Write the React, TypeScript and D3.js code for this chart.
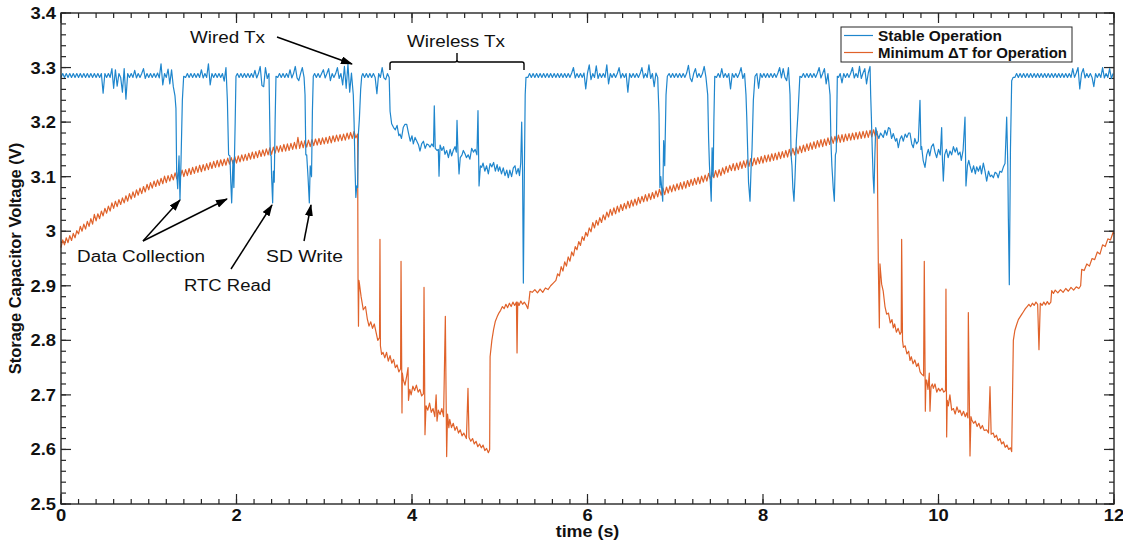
import React from 'react';
import * as d3 from 'd3';

type Pt = [number, number];

const run = (t0: number, dt: number, values: number[]): Pt[] =>
  values.map((v, i) => [Math.round((t0 + i * dt) * 1000) / 1000, v]);

// ---------------- Stable Operation (blue) ----------------
const stableQuiet1 = [
  3.282, 3.289, 3.282, 3.289, 3.282, 3.289, 3.282, 3.289, 3.282, 3.289,
  3.282, 3.289, 3.282, 3.289, 3.282, 3.289, 3.282, 3.289, 3.282, 3.289,
  3.282, 3.289, 3.282, 3.289, 3.253, 3.289, 3.282, 3.289, 3.282, 3.298,
  3.262, 3.296, 3.266, 3.289, 3.282, 3.255, 3.298, 3.242, 3.289, 3.282,
  3.289, 3.282, 3.295, 3.281, 3.289, 3.282, 3.289, 3.298, 3.280, 3.289,
  3.282, 3.289, 3.282, 3.289, 3.282, 3.290, 3.281, 3.307, 3.268, 3.289,
  3.282, 3.297, 3.270, 3.296, 3.265,
];
const stableDip1: Pt[] = [[1.299, 3.248], [1.31, 3.225], [1.318, 3.108], [1.33, 3.078], [1.345, 3.138], [1.356, 3.058], [1.368, 3.13], [1.383, 3.24], [1.398, 3.284]];
const stableQuiet2 = [3.282, 3.289, 3.282, 3.289, 3.282, 3.289, 3.282, 3.289, 3.282, 3.296, 3.281, 3.289, 3.282, 3.307, 3.268, 3.289, 3.282, 3.289, 3.282, 3.289, 3.282, 3.289, 3.275, 3.300];
const stableDip2: Pt[] = [[1.896, 3.24], [1.91, 3.14], [1.925, 3.138], [1.935, 3.09], [1.945, 3.052], [1.96, 3.13], [1.97, 3.08], [1.985, 3.2], [1.994, 3.284]];
const stableQuiet3 = [3.289, 3.282, 3.289, 3.282, 3.289, 3.282, 3.289, 3.282, 3.289, 3.282, 3.295, 3.281, 3.289, 3.302, 3.267, 3.265, 3.300, 3.280, 3.289];
const stableDip3: Pt[] = [[2.374, 3.25], [2.385, 3.14], [2.395, 3.138], [2.40, 3.1], [2.412, 3.052], [2.42, 3.11], [2.43, 3.09], [2.44, 3.2], [2.45, 3.284]];
const stableQuiet4 = [3.282, 3.289, 3.282, 3.289, 3.282, 3.289, 3.282, 3.296, 3.281, 3.289, 3.302, 3.281, 3.276, 3.289, 3.300, 3.282];
const stableDip4: Pt[] = [[2.781, 3.25], [2.79, 3.14], [2.80, 3.14], [2.815, 3.1], [2.83, 3.052], [2.84, 3.12], [2.855, 3.1], [2.865, 3.22], [2.875, 3.284]];
const stableQuiet5 = [3.289, 3.282, 3.289, 3.282, 3.289, 3.296, 3.281, 3.289, 3.298, 3.276, 3.289, 3.282, 3.289, 3.300, 3.280, 3.289, 3.268, 3.302, 3.262, 3.307, 3.255, 3.290];
const stableDip5: Pt[] = [[3.331, 3.25], [3.34, 3.2], [3.35, 3.12], [3.36, 3.062], [3.37, 3.083], [3.38, 3.08], [3.39, 3.181], [3.40, 3.205], [3.415, 3.26], [3.427, 3.284]];
const stableQuiet6 = [3.289, 3.282, 3.289, 3.282, 3.289, 3.282, 3.289, 3.282, 3.252, 3.289, 3.282, 3.300, 3.281, 3.278, 3.289, 3.282];
const stableWireless1: Pt[] = [
  [3.75, 3.22], [3.768, 3.197], [3.79, 3.19], [3.81, 3.186], [3.83, 3.194], [3.85, 3.175], [3.863, 3.178], [3.88, 3.17],
  [3.90, 3.19], [3.92, 3.196], [3.94, 3.196], [3.96, 3.18], [3.98, 3.165], [4.00, 3.175], [4.015, 3.16], [4.035, 3.172],
  [4.055, 3.165], [4.075, 3.158], [4.091, 3.147], [4.11, 3.16], [4.13, 3.165], [4.15, 3.152], [4.17, 3.16], [4.19, 3.158],
  [4.205, 3.154], [4.225, 3.16], [4.245, 3.155], [4.254, 3.23], [4.265, 3.152], [4.285, 3.148], [4.30, 3.15], [4.308, 3.101],
  [4.32, 3.158], [4.34, 3.148], [4.36, 3.155], [4.376, 3.141], [4.395, 3.148], [4.415, 3.135], [4.435, 3.15], [4.452, 3.138],
  [4.47, 3.148], [4.49, 3.155], [4.505, 3.145], [4.513, 3.203], [4.525, 3.14], [4.536, 3.105], [4.55, 3.135], [4.57, 3.14],
  [4.585, 3.148], [4.604, 3.142], [4.62, 3.135], [4.64, 3.14], [4.66, 3.132], [4.68, 3.152], [4.70, 3.145], [4.72, 3.15],
  [4.74, 3.14], [4.752, 3.221], [4.764, 3.083], [4.78, 3.12], [4.794, 3.117], [4.81, 3.125], [4.83, 3.11], [4.85, 3.12],
  [4.87, 3.105], [4.89, 3.124], [4.91, 3.118], [4.93, 3.126], [4.95, 3.11], [4.97, 3.122], [4.984, 3.11], [5.00, 3.118],
  [5.02, 3.105], [5.04, 3.116], [5.06, 3.102], [5.08, 3.112], [5.098, 3.098], [5.115, 3.112], [5.135, 3.1], [5.155, 3.116],
  [5.174, 3.12], [5.19, 3.105], [5.21, 3.115], [5.225, 3.102], [5.239, 3.125], [5.25, 3.2], [5.26, 3.11], [5.269, 2.905],
  [5.28, 3.1], [5.29, 3.25], [5.299, 3.282],
];
const stableQuiet7 = [
  3.282, 3.289, 3.282, 3.289, 3.282, 3.289, 3.282, 3.289, 3.282, 3.289,
  3.282, 3.289, 3.282, 3.289, 3.282, 3.289, 3.282, 3.289, 3.282, 3.289,
  3.282, 3.289, 3.282, 3.289, 3.282, 3.290, 3.300, 3.281, 3.289, 3.282,
  3.289, 3.282, 3.290, 3.261, 3.290, 3.305, 3.278, 3.289, 3.282, 3.303,
  3.280, 3.289, 3.282, 3.289, 3.282, 3.305, 3.270, 3.289, 3.282, 3.289,
  3.282, 3.289, 3.300, 3.281, 3.289, 3.282, 3.289, 3.255, 3.289, 3.282,
  3.289, 3.282, 3.289, 3.282, 3.289, 3.300, 3.281, 3.289, 3.282, 3.305,
  3.280, 3.289, 3.265, 3.290, 3.282,
];
const stableDip6: Pt[] = [[6.807, 3.25], [6.815, 3.215], [6.825, 3.08], [6.835, 3.10], [6.845, 3.08], [6.857, 3.055], [6.868, 3.166], [6.88, 3.12], [6.895, 3.25], [6.91, 3.284]];
const stableQuiet8 = [3.289, 3.282, 3.289, 3.282, 3.289, 3.282, 3.289, 3.282, 3.289, 3.282, 3.290, 3.304, 3.281, 3.274, 3.289, 3.298, 3.282, 3.289, 3.282, 3.289, 3.302, 3.282];
const stableDip7: Pt[] = [[7.37, 3.25], [7.38, 3.17], [7.39, 3.12], [7.40, 3.09], [7.41, 3.055], [7.42, 3.153], [7.432, 3.10], [7.44, 3.2], [7.45, 3.284]];
const stableQuiet9 = [3.282, 3.289, 3.282, 3.298, 3.282, 3.289, 3.282, 3.289, 3.261, 3.289, 3.282, 3.289, 3.282, 3.289, 3.300, 3.280, 3.289];
const stableDip8: Pt[] = [[7.806, 3.25], [7.815, 3.209], [7.825, 3.15], [7.835, 3.09], [7.852, 3.055], [7.865, 3.12], [7.875, 3.15], [7.89, 3.24], [7.909, 3.284]];
const stableQuiet10 = [3.289, 3.262, 3.289, 3.282, 3.289, 3.282, 3.289, 3.282, 3.289, 3.282, 3.289, 3.282, 3.290, 3.300, 3.281, 3.298, 3.282, 3.276, 3.300];
const stableDip9: Pt[] = [[8.308, 3.25], [8.32, 3.14], [8.33, 3.12], [8.34, 3.08], [8.353, 3.055], [8.365, 3.10], [8.38, 3.166], [8.40, 3.22], [8.42, 3.284]];
const stableQuiet11 = [3.282, 3.289, 3.282, 3.289, 3.282, 3.289, 3.282, 3.289, 3.282, 3.290, 3.300, 3.281, 3.289, 3.298, 3.270, 3.289];
const stableDip10: Pt[] = [[8.764, 3.25], [8.775, 3.16], [8.785, 3.12], [8.80, 3.08], [8.813, 3.055], [8.825, 3.14], [8.835, 3.146], [8.847, 3.284]];
const stableQuiet12 = [3.282, 3.289, 3.272, 3.289, 3.282, 3.289, 3.282, 3.290, 3.300, 3.281, 3.289, 3.282, 3.302, 3.280, 3.290, 3.298, 3.270, 3.290, 3.302];
const stableWireless2: Pt[] = [
  [9.227, 3.25], [9.235, 3.209], [9.245, 3.15], [9.255, 3.1], [9.265, 3.07], [9.275, 3.14], [9.285, 3.19],
  [9.30, 3.179], [9.32, 3.17], [9.34, 3.18], [9.371, 3.172], [9.39, 3.185], [9.41, 3.176], [9.43, 3.19], [9.447, 3.188],
  [9.465, 3.17], [9.485, 3.179], [9.51, 3.165], [9.525, 3.17], [9.542, 3.153], [9.56, 3.168], [9.58, 3.175], [9.599, 3.165],
  [9.62, 3.178], [9.64, 3.172], [9.66, 3.18], [9.675, 3.18], [9.695, 3.16], [9.713, 3.153], [9.73, 3.17], [9.75, 3.16],
  [9.77, 3.165], [9.789, 3.24], [9.80, 3.15], [9.808, 3.155], [9.825, 3.13], [9.846, 3.117], [9.865, 3.14], [9.884, 3.15],
  [9.90, 3.138], [9.92, 3.155], [9.941, 3.16], [9.96, 3.145], [9.979, 3.135], [10.00, 3.15], [10.02, 3.14], [10.036, 3.19],
  [10.045, 3.13], [10.055, 3.092], [10.07, 3.14], [10.09, 3.15], [10.11, 3.135], [10.131, 3.147], [10.15, 3.14], [10.17, 3.155],
  [10.19, 3.145], [10.207, 3.153], [10.225, 3.14], [10.245, 3.145], [10.26, 3.13], [10.28, 3.148], [10.302, 3.209], [10.313, 3.083],
  [10.33, 3.12], [10.345, 3.13], [10.359, 3.12], [10.38, 3.108], [10.40, 3.12], [10.42, 3.105], [10.435, 3.118], [10.455, 3.11],
  [10.475, 3.12], [10.49, 3.105], [10.511, 3.125], [10.53, 3.11], [10.549, 3.092], [10.57, 3.11], [10.59, 3.1], [10.606, 3.103],
  [10.625, 3.098], [10.645, 3.108], [10.663, 3.106], [10.68, 3.098], [10.70, 3.11], [10.72, 3.108], [10.74, 3.118], [10.758, 3.124],
  [10.777, 3.209], [10.79, 3.12], [10.796, 3.025], [10.807, 2.902], [10.82, 3.15], [10.834, 3.276], [10.85, 3.282],
];
const stableQuiet13 = [
  3.282, 3.289, 3.282, 3.289, 3.282, 3.289, 3.282, 3.289, 3.282, 3.289,
  3.282, 3.289, 3.282, 3.289, 3.282, 3.289, 3.282, 3.289, 3.282, 3.289,
  3.282, 3.289, 3.282, 3.289, 3.282, 3.289, 3.282, 3.289, 3.282, 3.289,
  3.282, 3.289, 3.282, 3.298, 3.282, 3.290, 3.300, 3.261, 3.289, 3.298,
  3.281, 3.289, 3.282, 3.289, 3.282, 3.265, 3.289, 3.282, 3.289, 3.282,
  3.300, 3.281, 3.289, 3.282, 3.298, 3.280, 3.289,
];

// ---------------- Minimum dT for Operation (orange) ----------------
// 0.00 – 3.36 s, every 0.02 s
const deltaRise1 = [
  2.970, 2.984, 2.975, 2.988, 2.979, 2.992, 2.983, 2.996, 2.988, 3.001,
  2.995, 3.009, 3.000, 3.013, 3.004, 3.018, 3.009, 3.023, 3.013, 3.031,
  3.019, 3.032, 3.023, 3.037, 3.028, 3.042, 3.033, 3.046, 3.037, 3.052,
  3.042, 3.055, 3.045, 3.058, 3.049, 3.061, 3.052, 3.065, 3.055, 3.069,
  3.059, 3.072, 3.062, 3.076, 3.066, 3.079, 3.069, 3.082, 3.072, 3.086,
  3.076, 3.089, 3.079, 3.092, 3.082, 3.094, 3.084, 3.097, 3.087, 3.101,
  3.089, 3.102, 3.092, 3.104, 3.094, 3.107, 3.096, 3.109, 3.099, 3.112,
  3.100, 3.113, 3.102, 3.115, 3.104, 3.117, 3.106, 3.119, 3.108, 3.121,
  3.109, 3.122, 3.111, 3.124, 3.113, 3.126, 3.115, 3.128, 3.117, 3.130,
  3.118, 3.131, 3.120, 3.132, 3.121, 3.134, 3.123, 3.135, 3.124, 3.137,
  3.125, 3.138, 3.127, 3.140, 3.129, 3.141, 3.130, 3.143, 3.132, 3.145,
  3.133, 3.146, 3.135, 3.148, 3.137, 3.149, 3.138, 3.151, 3.140, 3.153,
  3.141, 3.154, 3.143, 3.156, 3.145, 3.157, 3.146, 3.159, 3.147, 3.160,
  3.148, 3.161, 3.150, 3.163, 3.151, 3.172, 3.152, 3.165, 3.153, 3.166,
  3.154, 3.167, 3.155, 3.168, 3.157, 3.169, 3.158, 3.170, 3.159, 3.171,
  3.160, 3.172, 3.161, 3.174, 3.162, 3.175, 3.164, 3.176, 3.165, 3.177,
  3.166, 3.178, 3.167, 3.180, 3.169, 3.181, 3.170, 3.183, 3.171,
];
const deltaDrop1: Pt[] = [
  [3.38, 3.178], [3.385, 2.914], [3.39, 2.826], [3.395, 2.91], [3.40, 2.905], [3.42, 2.88], [3.445, 2.856], [3.47, 2.862],
  [3.49, 2.84], [3.51, 2.826], [3.53, 2.834], [3.55, 2.822], [3.57, 2.83], [3.59, 2.815], [3.61, 2.80], [3.63, 2.805],
  [3.635, 2.985], [3.64, 2.79], [3.654, 2.774], [3.67, 2.778], [3.69, 2.768], [3.71, 2.778], [3.73, 2.762], [3.75, 2.772],
  [3.77, 2.758], [3.79, 2.765], [3.81, 2.75], [3.83, 2.755], [3.85, 2.742], [3.87, 2.748], [3.875, 2.945], [3.886, 2.667],
  [3.89, 2.74], [3.90, 2.728], [3.92, 2.718], [3.94, 2.735], [3.955, 2.75], [3.96, 2.69], [3.975, 2.71], [3.99, 2.70],
  [4.01, 2.716], [4.03, 2.708], [4.05, 2.718], [4.07, 2.705], [4.09, 2.71], [4.11, 2.698], [4.13, 2.702], [4.137, 2.897],
  [4.148, 2.627], [4.16, 2.68], [4.18, 2.672], [4.20, 2.685], [4.22, 2.668], [4.24, 2.675], [4.26, 2.66], [4.275, 2.70],
  [4.285, 2.652], [4.30, 2.672], [4.32, 2.664], [4.34, 2.675], [4.36, 2.66], [4.38, 2.844], [4.395, 2.587], [4.405, 2.665],
  [4.42, 2.64], [4.43, 2.655], [4.45, 2.64], [4.47, 2.648], [4.49, 2.635], [4.51, 2.642], [4.53, 2.63], [4.55, 2.636],
  [4.57, 2.625], [4.59, 2.63], [4.62, 2.62], [4.638, 2.712], [4.65, 2.622], [4.67, 2.615], [4.69, 2.62], [4.71, 2.61],
  [4.73, 2.615], [4.75, 2.605], [4.77, 2.61], [4.79, 2.603], [4.81, 2.608], [4.83, 2.598], [4.85, 2.602], [4.87, 2.594],
];
const deltaRecover1: Pt[] = [
  [4.885, 2.60], [4.89, 2.77], [4.91, 2.80], [4.93, 2.82], [4.95, 2.835], [4.97, 2.843], [4.99, 2.85], [5.01, 2.855],
  [5.03, 2.862], [5.05, 2.858], [5.07, 2.866], [5.09, 2.86], [5.11, 2.868], [5.13, 2.862], [5.15, 2.87], [5.17, 2.864],
  [5.19, 2.87], [5.197, 2.777], [5.205, 2.87], [5.22, 2.864], [5.24, 2.872], [5.26, 2.866], [5.28, 2.87], [5.30, 2.865],
  [5.32, 2.858], [5.335, 2.875], [5.345, 2.89], [5.37, 2.888], [5.40, 2.893], [5.43, 2.887], [5.46, 2.894], [5.49, 2.888],
  [5.52, 2.896], [5.55, 2.893], [5.58, 2.90], [5.61, 2.905], [5.64, 2.91], [5.66, 2.922],
];
// 5.68 – 9.28 s, every 0.02 s
const deltaRise2 = [
  2.918, 2.935, 2.927, 2.944, 2.936, 2.953, 2.945, 2.962, 2.955, 2.972,
  2.966, 2.981, 2.974, 2.990, 2.983, 2.998, 2.991, 3.006, 2.999, 3.016,
  3.006, 3.020, 3.011, 3.025, 3.016, 3.030, 3.021, 3.035, 3.026, 3.040,
  3.029, 3.043, 3.032, 3.046, 3.035, 3.049, 3.038, 3.051, 3.041, 3.055,
  3.043, 3.057, 3.046, 3.059, 3.048, 3.062, 3.051, 3.064, 3.054, 3.067,
  3.055, 3.069, 3.058, 3.071, 3.060, 3.074, 3.063, 3.077, 3.066, 3.079,
  3.067, 3.081, 3.070, 3.083, 3.072, 3.085, 3.074, 3.087, 3.076, 3.089,
  3.077, 3.091, 3.079, 3.093, 3.082, 3.095, 3.084, 3.097, 3.086, 3.099,
  3.087, 3.101, 3.090, 3.103, 3.092, 3.106, 3.095, 3.108, 3.098, 3.111,
  3.099, 3.113, 3.102, 3.116, 3.105, 3.119, 3.108, 3.121, 3.111, 3.124,
  3.111, 3.125, 3.113, 3.127, 3.115, 3.129, 3.117, 3.131, 3.119, 3.133,
  3.120, 3.134, 3.122, 3.135, 3.124, 3.137, 3.125, 3.139, 3.127, 3.140,
  3.128, 3.142, 3.130, 3.143, 3.131, 3.145, 3.133, 3.146, 3.135, 3.148,
  3.136, 3.150, 3.138, 3.152, 3.140, 3.154, 3.142, 3.156, 3.144, 3.158,
  3.146, 3.160, 3.148, 3.162, 3.150, 3.164, 3.152, 3.166, 3.154, 3.168,
  3.155, 3.169, 3.157, 3.171, 3.159, 3.173, 3.161, 3.174, 3.162, 3.176,
  3.163, 3.177, 3.164, 3.178, 3.166, 3.179, 3.167, 3.180, 3.168, 3.181,
  3.169, 3.182, 3.170, 3.183, 3.171, 3.184, 3.172, 3.185, 3.173, 3.186,
  3.174,
];
const deltaDrop2: Pt[] = [
  [9.30, 3.183], [9.314, 2.94], [9.326, 2.823], [9.333, 2.94], [9.352, 2.903], [9.37, 2.89], [9.39, 2.862], [9.409, 2.848],
  [9.43, 2.85], [9.45, 2.832], [9.47, 2.838], [9.485, 2.823], [9.50, 2.83], [9.52, 2.815], [9.54, 2.822], [9.561, 2.811],
  [9.575, 2.815], [9.58, 2.985], [9.59, 2.8], [9.60, 2.787], [9.62, 2.79], [9.64, 2.775], [9.66, 2.78], [9.675, 2.763],
  [9.69, 2.77], [9.71, 2.757], [9.73, 2.764], [9.751, 2.752], [9.77, 2.758], [9.79, 2.742], [9.808, 2.738], [9.83, 2.735],
  [9.838, 2.945], [9.85, 2.67], [9.857, 2.727], [9.865, 2.727], [9.88, 2.71], [9.895, 2.74], [9.903, 2.67], [9.915, 2.715],
  [9.93, 2.72], [9.941, 2.712], [9.96, 2.72], [9.98, 2.705], [10.0, 2.712], [10.017, 2.707], [10.04, 2.712], [10.06, 2.705],
  [10.08, 2.708], [10.085, 2.894], [10.093, 2.623], [10.10, 2.69], [10.112, 2.68], [10.13, 2.7], [10.15, 2.672], [10.17, 2.675],
  [10.19, 2.665], [10.21, 2.678], [10.23, 2.668], [10.245, 2.672], [10.265, 2.662], [10.285, 2.67], [10.305, 2.66], [10.321, 2.667],
  [10.335, 2.658], [10.34, 2.851], [10.359, 2.588], [10.37, 2.66], [10.38, 2.654], [10.40, 2.648], [10.42, 2.652], [10.44, 2.642],
  [10.46, 2.648], [10.48, 2.638], [10.50, 2.644], [10.52, 2.635], [10.549, 2.636], [10.57, 2.63], [10.587, 2.715], [10.60, 2.628],
  [10.624, 2.63], [10.64, 2.622], [10.66, 2.626], [10.68, 2.616], [10.70, 2.62], [10.72, 2.61], [10.74, 2.614], [10.76, 2.604],
  [10.78, 2.608], [10.80, 2.6], [10.82, 2.603], [10.834, 2.596],
];
const deltaRecover2: Pt[] = [
  [10.853, 2.80], [10.87, 2.818], [10.891, 2.829], [10.91, 2.838], [10.93, 2.843], [10.95, 2.848], [10.966, 2.852], [10.99, 2.858],
  [11.01, 2.862], [11.03, 2.866], [11.05, 2.862], [11.07, 2.868], [11.09, 2.864], [11.11, 2.87], [11.13, 2.866], [11.145, 2.783],
  [11.16, 2.868], [11.18, 2.864], [11.20, 2.87], [11.22, 2.865], [11.24, 2.871], [11.26, 2.866], [11.28, 2.87], [11.29, 2.891],
  [11.31, 2.886], [11.33, 2.892], [11.36, 2.887], [11.39, 2.893], [11.42, 2.888], [11.45, 2.895], [11.48, 2.89], [11.51, 2.897],
  [11.54, 2.892], [11.57, 2.898], [11.60, 2.895], [11.62, 2.90], [11.632, 2.93], [11.66, 2.928], [11.69, 2.94], [11.72, 2.936],
  [11.75, 2.95], [11.78, 2.948], [11.81, 2.962], [11.84, 2.958], [11.87, 2.975], [11.90, 2.972], [11.93, 2.986], [11.96, 2.984],
  [11.99, 2.998], [12.0, 2.995],
];

const byTime = (a: Pt, b: Pt) => a[0] - b[0];

const stableOperation: Pt[] = [
  ...run(0, 0.02, stableQuiet1), ...stableDip1, ...run(1.42, 0.02, stableQuiet2), ...stableDip2,
  ...run(2.01, 0.02, stableQuiet3), ...stableDip3, ...run(2.47, 0.02, stableQuiet4), ...stableDip4,
  ...run(2.89, 0.02, stableQuiet5), ...stableDip5, ...run(3.44, 0.02, stableQuiet6), ...stableWireless1,
  ...run(5.32, 0.02, stableQuiet7), ...stableDip6, ...run(6.93, 0.02, stableQuiet8), ...stableDip7,
  ...run(7.47, 0.02, stableQuiet9), ...stableDip8, ...run(7.93, 0.02, stableQuiet10), ...stableDip9,
  ...run(8.44, 0.02, stableQuiet11), ...stableDip10, ...run(8.86, 0.02, stableQuiet12), ...stableWireless2,
  ...run(10.87, 0.02, stableQuiet13),
].sort(byTime);

const minimumDeltaT: Pt[] = [
  ...run(0, 0.02, deltaRise1), ...deltaDrop1, ...deltaRecover1,
  ...run(5.68, 0.02, deltaRise2), ...deltaDrop2, ...deltaRecover2,
].sort(byTime);

const seriesNames = ['Stable Operation', 'Minimum \u0394T for Operation'];
const seriesColors = ['#1f86cd', '#e0622a'];

const FONT = '"Liberation Sans", Arial, Helvetica, sans-serif';
const AXIS = '#262626';

function Txt({ x, y, anchor = 'start', size = 16, bold = false, sx = 1, rotate = 0, len, children }: any) {
  return (
    <text
      transform={`translate(${x},${y}) rotate(${rotate}) scale(${sx},1)`}
      textAnchor={anchor}
      fontSize={size}
      fontWeight={bold ? 'bold' : 'normal'}
      fontFamily={FONT}
      fill="#111"
      textLength={len}
      lengthAdjust={len ? 'spacingAndGlyphs' : undefined}
    >
      {children}
    </text>
  );
}

export default function App() {
  const W = 1123, H = 544;
  const left = 61, right = 1114, top = 13, bottom = 504;

  const x = d3.scaleLinear().domain([0, 12]).range([left, right]);
  const y = d3.scaleLinear().domain([2.5, 3.4]).range([bottom, top]);

  const line = d3.line<Pt>().x(d => x(d[0])).y(d => y(d[1]));

  const xMajor = x.ticks(6);
  const xMinor = d3.range(0, 61).map(i => i * 0.2);
  const yMajor = y.ticks(9);
  const yMinor = d3.range(0, 46).map(i => 2.5 + i * 0.02);
  const fmt = (v: number) => String(+v.toFixed(1));

  // annotation arrows: tail -> head
  const arrows = [
    [277, 37, 352, 64],
    [143, 241, 180, 200],
    [143, 241, 227, 199],
    [231, 269, 272, 205],
    [304, 241, 311, 205],
  ];

  return (
    <svg width={W} height={H} style={{ position: 'absolute', left: 0, top: 0, background: '#fff' }}>
      <defs>
        <marker id="head" viewBox="0 0 12 8" refX="11" refY="4" markerWidth="12" markerHeight="8"
          markerUnits="userSpaceOnUse" orient="auto">
          <path d="M0,0 L12,4 L0,8 z" fill="#000" />
        </marker>
      </defs>
      <rect x={0} y={0} width={W} height={H} fill="#fff" />

      {/* ticks */}
      <g stroke={AXIS} strokeWidth={1.2}>
        {xMinor.map((t, i) => (
          <g key={'xm' + i}>
            <line x1={x(t)} x2={x(t)} y1={bottom} y2={bottom - 5} />
            <line x1={x(t)} x2={x(t)} y1={top} y2={top + 5} />
          </g>
        ))}
        {xMajor.map((t, i) => (
          <g key={'xM' + i}>
            <line x1={x(t)} x2={x(t)} y1={bottom} y2={bottom - 10} />
            <line x1={x(t)} x2={x(t)} y1={top} y2={top + 10} />
          </g>
        ))}
        {yMinor.map((v, i) => (
          <g key={'ym' + i}>
            <line x1={left} x2={left + 5} y1={y(v)} y2={y(v)} />
            <line x1={right} x2={right - 5} y1={y(v)} y2={y(v)} />
          </g>
        ))}
        {yMajor.map((v, i) => (
          <g key={'yM' + i}>
            <line x1={left} x2={left + 10} y1={y(v)} y2={y(v)} />
            <line x1={right} x2={right - 10} y1={y(v)} y2={y(v)} />
          </g>
        ))}
      </g>

      {/* data */}
      <path d={line(minimumDeltaT) || ''} fill="none" stroke={seriesColors[1]} strokeWidth={1.2} strokeLinejoin="round" />
      <path d={line(stableOperation) || ''} fill="none" stroke={seriesColors[0]} strokeWidth={1.2} strokeLinejoin="round" />

      <rect x={left} y={top} width={right - left} height={bottom - top} fill="none" stroke={AXIS} strokeWidth={1.4} />

      {/* tick labels */}
      {xMajor.map((t, i) => (
        <Txt key={'xl' + i} x={x(t)} y={521} anchor="middle" bold sx={1.15}>{fmt(t)}</Txt>
      ))}
      {yMajor.map((v, i) => (
        <Txt key={'yl' + i} x={56} y={y(v) + 6} anchor="end" bold sx={1.15}>{fmt(v)}</Txt>
      ))}
      <Txt x={(left + right) / 2} y={537} anchor="middle" bold sx={1.12}>time (s)</Txt>
      <Txt x={21} y={(top + bottom) / 2} anchor="middle" bold rotate={-90} size={16.5}>Storage Capacitor Voltage (V)</Txt>

      {/* legend */}
      <rect x={841} y={27} width={231} height={35} fill="#fff" stroke={AXIS} strokeWidth={1} />
      <line x1={844} x2={873} y1={35.5} y2={35.5} stroke={seriesColors[0]} strokeWidth={1.2} />
      <line x1={844} x2={873} y1={52.5} y2={52.5} stroke={seriesColors[1]} strokeWidth={1.2} />
      <Txt x={878} y={41} bold size={14.5} len={124}>{seriesNames[0]}</Txt>
      <Txt x={878} y={57.5} bold size={14.5} len={189}>{seriesNames[1]}</Txt>

      {/* annotations */}
      <g stroke="#000" strokeWidth={1.5}>
        {arrows.map((a, i) => (
          <line key={'ar' + i} x1={a[0]} y1={a[1]} x2={a[2]} y2={a[3]} markerEnd="url(#head)" />
        ))}
      </g>
      <path d="M390,70 V64 Q390,62 392,62 H455 Q457,62 457,60 V53 M457,60 Q457,62 459,62 H522 Q524,62 524,64 V70"
        fill="none" stroke="#000" strokeWidth={1.4} />
      <Txt x={190} y={43} len={75}>Wired Tx</Txt>
      <Txt x={407} y={47} len={98}>Wireless Tx</Txt>
      <Txt x={77} y={262} len={128}>Data Collection</Txt>
      <Txt x={266} y={262} len={77}>SD Write</Txt>
      <Txt x={184} y={291} len={87}>RTC Read</Txt>
    </svg>
  );
}
